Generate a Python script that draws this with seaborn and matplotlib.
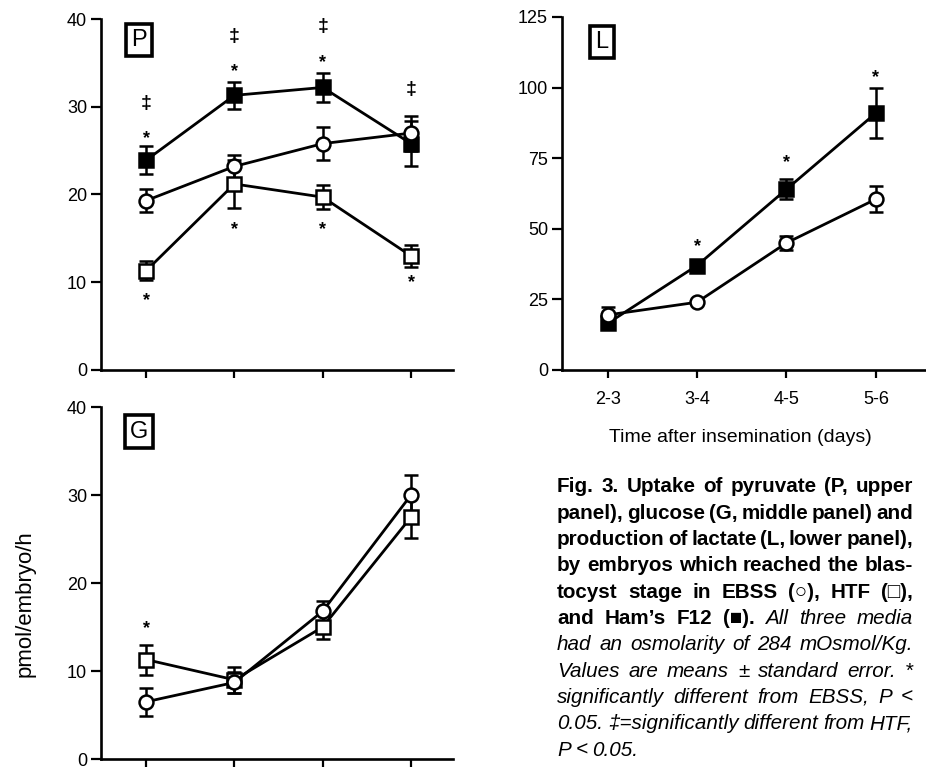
import numpy as np
import pandas as pd
import seaborn as sns
import matplotlib.pyplot as plt

# x categories (days after insemination)
days = ['2-3', '3-4', '4-5', '5-6']

# Pyruvate uptake (P)
p_ebss = [19.3, 23.2, 25.8, 27.0]
p_ebss_se = [1.3, 1.3, 1.9, 2.0]
p_htf = [11.3, 21.2, 19.7, 13.0]
p_htf_se = [1.1, 2.7, 1.4, 1.3]
p_ham = [23.9, 31.3, 32.2, 25.8]
p_ham_se = [1.6, 1.5, 1.7, 2.6]

# Glucose uptake (G)
g_ebss = [6.5, 8.7, 16.8, 30.0]
g_ebss_se = [1.6, 1.2, 1.2, 2.3]
g_htf = [11.3, 9.0, 15.0, 27.5]
g_htf_se = [1.7, 1.5, 1.4, 2.4]

# Lactate production (L)
l_ebss = [19.5, 24.0, 45.0, 60.5]
l_ebss_se = [2.8, 0.0, 2.6, 4.7]
l_ham = [16.5, 37.0, 64.0, 91.0]
l_ham_se = [0.0, 0.0, 3.5, 9.0]

# significance marks: (x index, y value, symbol)
p_marks = [(0, 27.0, '*'), (0, 8.5, '*'), (0, 30.4, '\u2021'),
           (1, 34.6, '*'), (1, 16.6, '*'), (1, 38.0, '\u2021'),
           (2, 35.7, '*'), (2, 16.6, '*'), (2, 39.1, '\u2021'),
           (3, 10.6, '*'), (3, 32.0, '\u2021')]
g_marks = [(0, 15.5, '*')]
l_marks = [(1, 45.8, '*'), (2, 75.4, '*'), (3, 105.6, '*')]

caption = [
    [('Fig. 3. Uptake of pyruvate (P, upper', 'bold')],
    [('panel), glucose (G, middle panel) and', 'bold')],
    [('production of lactate (L, lower panel),', 'bold')],
    [('by embryos which reached the blas-', 'bold')],
    [('tocyst stage in EBSS (\u25cb), HTF (\u25a1),', 'bold')],
    [('and Ham\u2019s F12 (\u25a0).', 'bold'), ('All three media', 'italic')],
    [('had an osmolarity of 284 mOsmol/Kg.', 'italic')],
    [('Values are means \u00b1 standard error. *', 'italic')],
    [('significantly different from EBSS, P <', 'italic')],
    [('0.05. \u2021=significantly different from HTF,', 'italic')],
    [('P < 0.05.', 'italic')],
]

sns.set_theme(style='ticks')
plt.rcParams['font.family'] = ['Liberation Sans', 'DejaVu Sans']
for k in ['text.color', 'axes.labelcolor', 'xtick.color', 'ytick.color',
          'axes.edgecolor']:
    plt.rcParams[k] = 'black'

fig = plt.figure(figsize=(9.26, 7.68), dpi=100)
W, H = 926, 768
ax_p = fig.add_axes([101 / W, 1 - 370 / H, 352 / W, 351 / H])
ax_g = fig.add_axes([101 / W, 1 - 759 / H, 352 / W, 352 / H])
ax_l = fig.add_axes([562 / W, 1 - 370 / H, 364 / W, 353 / H])

xs = np.arange(len(days))


def series(ax, y, se, marker, fill):
    df = pd.DataFrame({'x': xs, 'y': y})
    ax.errorbar(xs, y, yerr=se, fmt='none', ecolor='black', elinewidth=1.8,
                capsize=4.8, capthick=1.8, zorder=2)
    sns.lineplot(data=df, x='x', y='y', ax=ax, color='black', lw=2.0,
                 marker=marker, markersize=10,
                 markerfacecolor=fill, markeredgecolor='black',
                 markeredgewidth=1.8, zorder=3)


def style(ax, ymax, yticks, xlim_r, labels):
    ax.set_xlim(-0.51, xlim_r)
    ax.set_ylim(0, ymax)
    ax.set_yticks(yticks)
    ax.set_xticks(xs)
    ax.set_xticklabels(days if labels else [])
    ax.set_xlabel('')
    ax.set_ylabel('')
    sns.despine(ax=ax)
    for s in ['left', 'bottom']:
        ax.spines[s].set_linewidth(1.9)
    ax.tick_params(axis='y', length=7, width=1.6, pad=3, labelsize=13)
    ax.tick_params(axis='x', length=6, width=1.6, pad=9, labelsize=13)


def panel_label(ax, txt, xf, yf):
    ax.text(xf, yf, txt, transform=ax.transAxes, ha='center', va='center',
            fontsize=17,
            bbox=dict(boxstyle='square,pad=0.22', fc='white', ec='black', lw=2.6))


def marks(ax, lst):
    for x, y, s in lst:
        if s == '*':
            # the asterisk glyph sits high in its box, pull it down a little
            ax.annotate(s, (x, y), xytext=(0, -4), textcoords='offset points',
                        ha='center', va='center', fontsize=13,
                        fontweight='bold')
        else:
            ax.text(x, y, s, ha='center', va='center', fontsize=14,
                    fontweight='bold')


# P
series(ax_p, p_ham, p_ham_se, 's', 'black')
series(ax_p, p_htf, p_htf_se, 's', 'white')
series(ax_p, p_ebss, p_ebss_se, 'o', 'white')
style(ax_p, 40, [0, 10, 20, 30, 40], 3.475, False)
panel_label(ax_p, 'P', 0.108, 0.94)
marks(ax_p, p_marks)

# G
series(ax_g, g_htf, g_htf_se, 's', 'white')
series(ax_g, g_ebss, g_ebss_se, 'o', 'white')
style(ax_g, 40, [0, 10, 20, 30, 40], 3.475, False)
panel_label(ax_g, 'G', 0.108, 0.93)
marks(ax_g, g_marks)

# L
series(ax_l, l_ham, l_ham_se, 's', 'black')
series(ax_l, l_ebss, l_ebss_se, 'o', 'white')
style(ax_l, 125, [0, 25, 50, 75, 100, 125], 3.56, True)
panel_label(ax_l, 'L', 0.11, 0.93)
marks(ax_l, l_marks)

fig.text(740 / W, 1 - 437 / H, 'Time after insemination (days)',
         ha='center', va='center', fontsize=14)
fig.text(25 / W, 1 - 604 / H, 'pmol/embryo/h', rotation=90,
         ha='center', va='center', fontsize=16)

# caption, justified line by line
renderer = fig.canvas.get_renderer()
x0, x1 = 557, 913
min_gap = 3.5


def make_words(line, y, size):
    out = []
    for txt, kind in line:
        for w in txt.split(' '):
            kw = dict(fontsize=size)
            if kind == 'bold':
                kw['fontweight'] = 'bold'
            else:
                kw['fontstyle'] = 'italic'
            t = fig.text(0, y, w, ha='left', va='center', **kw)
            out.append((t, t.get_window_extent(renderer).width))
    return out


# find the largest font size that fits every justified line
size = 20.0
for line in caption[:-1]:
    items = make_words(line, 0, 10)
    total = sum(wd for _, wd in items)
    for t, _ in items:
        t.remove()
    fit = 10 * (x1 - x0 - min_gap * (len(items) - 1)) / total
    size = min(size, fit)

for i, line in enumerate(caption):
    yc = 1 - (487 + i * 26.3) / H
    items = make_words(line, yc, size)
    total = sum(wd for _, wd in items)
    last = i == len(caption) - 1
    gap = 4.5 if last else (x1 - x0 - total) / (len(items) - 1)
    xp = x0
    for t, wd in items:
        t.set_x(xp / W)
        xp += wd + gap

fig.savefig('out.png', dpi=100)
